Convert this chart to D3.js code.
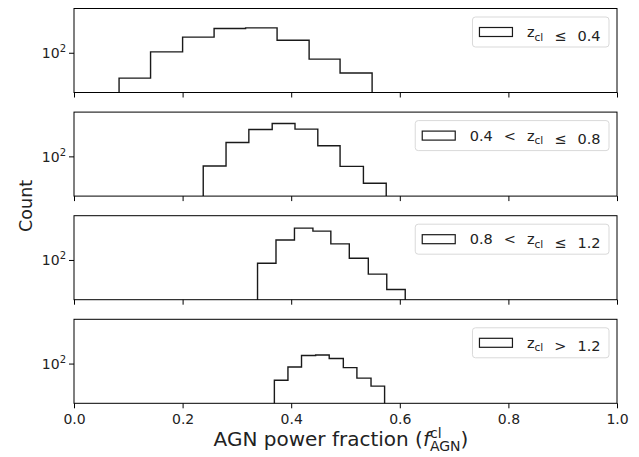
<!DOCTYPE html>
<html>
<head>
<meta charset="utf-8">
<script src="https://cdn.jsdelivr.net/npm/d3@7"></script>
<style>
  html, body { margin: 0; padding: 0; background: #fff; }
  svg { display: block; font-family: "DejaVu Sans", sans-serif; }
</style>
</head>
<body>
<svg id="chart" width="639" height="457"></svg>
<script>
// ── data ──────────────────────────────────────────────────
const panelLabels = [
  [["z", "cl"], "\u2264", "0.4"],
  ["0.4", "<", ["z", "cl"], "\u2264", "0.8"],
  ["0.8", "<", ["z", "cl"], "\u2264", "1.2"],
  [["z", "cl"], ">", "1.2"]
];
const edges1 = [0.083, 0.141, 0.200, 0.258, 0.316, 0.374, 0.433, 0.490, 0.549];
const edges2 = [0.238, 0.280, 0.322, 0.365, 0.407, 0.449, 0.490, 0.533, 0.575];
const edges3 = [0.338, 0.372, 0.406, 0.440, 0.473, 0.507, 0.542, 0.576, 0.610];
const edges4 = [0.369, 0.394, 0.419, 0.445, 0.470, 0.496, 0.521, 0.547, 0.572];
const counts1 = [23, 105, 247, 409, 423, 207, 69, 31];
const counts2 = [57, 224, 475, 673, 486, 185, 56, 21];
const counts3 = [83, 319, 631, 531, 254, 110, 44, 18];
const counts4 = [38, 82, 159, 164, 134, 79, 43, 27];
const xTicks = [0, 0.2, 0.4, 0.6, 0.8, 1.0];
const yTicks = [100];

const panels = [
  { edges: edges1, counts: counts1, label: panelLabels[0] },
  { edges: edges2, counts: counts2, label: panelLabels[1] },
  { edges: edges3, counts: counts3, label: panelLabels[2] },
  { edges: edges4, counts: counts4, label: panelLabels[3] }
];

// ── layout ────────────────────────────────────────────────
const LEFT = 74, RIGHT = 617;
const TOP0 = 8.5, PANEL_H = 84, STEP_Y = 103.6;
const TICK = 5;
const TICK_FONT = 14, LEG_FONT = 14.5;

const svg = d3.select("#chart");
const x = d3.scaleLinear().domain([0, 1]).range([LEFT, RIGHT]);

panels.forEach((p, i) => {
  const top = TOP0 + i * STEP_Y;
  const y = d3.scaleLog().domain([10, 1300]).range([top + PANEL_H, top]);
  const g = svg.append("g");

  // histogram outline (step)
  const pts = [{ x: p.edges[0], y: 10 }];
  p.counts.forEach((c, k) => pts.push({ x: p.edges[k], y: c }));
  pts.push({ x: p.edges[p.edges.length - 1], y: p.counts[p.counts.length - 1] });
  pts.push({ x: p.edges[p.edges.length - 1], y: 10 });
  const line = d3.line().x(d => x(d.x)).y(d => y(d.y)).curve(d3.curveStepAfter);
  g.append("path")
    .attr("d", line(pts))
    .attr("fill", "none")
    .attr("stroke", "#1a1a1a")
    .attr("stroke-width", 1.4);

  // x axis
  const xAxis = d3.axisBottom(x).tickValues(xTicks).tickSize(TICK).tickPadding(6)
    .tickFormat(i === panels.length - 1 ? d3.format(".1f") : () => "");
  const gx = g.append("g").attr("transform", `translate(0,${top + PANEL_H})`).call(xAxis);
  gx.select(".domain").remove();
  gx.selectAll("line").attr("stroke", "#000").attr("stroke-width", 1);
  gx.selectAll("text").attr("font-size", TICK_FONT).attr("fill", "#222")
    .attr("font-family", "DejaVu Sans");

  // y axis
  const yAxis = d3.axisLeft(y).tickValues(yTicks).tickSize(TICK).tickPadding(3).tickFormat(() => "");
  const gy = g.append("g").attr("transform", `translate(${LEFT},0)`).call(yAxis);
  gy.select(".domain").remove();
  gy.selectAll("line").attr("stroke", "#000").attr("stroke-width", 1);
  gy.selectAll(".tick text").each(function () {
    const t = d3.select(this).attr("font-size", TICK_FONT).attr("fill", "#222")
      .attr("font-family", "DejaVu Sans").attr("dy", "0.35em");
    t.append("tspan").text("10");
    t.append("tspan").text("2").attr("font-size", 10).attr("dy", "-0.6em");
  });

  // spines
  g.append("rect")
    .attr("x", LEFT).attr("y", top)
    .attr("width", RIGHT - LEFT).attr("height", PANEL_H)
    .attr("fill", "none").attr("stroke", "#000").attr("stroke-width", 1);

  // legend
  const lg = g.append("g");
  const frame = lg.append("rect");
  const txt = lg.append("text").attr("font-size", LEG_FONT).attr("fill", "#222");
  const GAP = 11;
  p.label.forEach((tok, k) => {
    const dx = k === 0 ? 0 : GAP;
    if (Array.isArray(tok)) {
      txt.append("tspan").text(tok[0]).attr("dx", dx);
      txt.append("tspan").text(tok[1]).attr("font-size", 10.5).attr("dy", 3.5);
      txt.append("tspan").text("").attr("dy", -3.5);
    } else {
      txt.append("tspan").text(tok).attr("dx", dx);
    }
  });
  const tw = txt.node().getBBox().width;
  const legH = 30, padL = 7, handleW = 33, gap = 14.5, padR = 8.5;
  const legW = padL + handleW + gap + tw + padR;
  const lx = 609 - legW, ly = top + 8.5;
  frame.attr("x", lx).attr("y", ly).attr("width", legW).attr("height", legH)
    .attr("rx", 3).attr("fill", "#fff").attr("fill-opacity", 0.8)
    .attr("stroke", "#d9d9d9").attr("stroke-width", 1);
  lg.append("rect")
    .attr("x", lx + padL).attr("y", ly + legH / 2 - 4.5)
    .attr("width", handleW).attr("height", 9)
    .attr("fill", "none").attr("stroke", "#1a1a1a").attr("stroke-width", 1.2);
  txt.attr("x", lx + padL + handleW + gap).attr("y", ly + legH / 2 + 5);
});

// ── axis titles ───────────────────────────────────────────
const xl = svg.append("text")
  .attr("x", 341).attr("y", 446)
  .attr("text-anchor", "middle")
  .attr("font-size", 20).attr("fill", "#222");
xl.append("tspan").text("AGN power fraction (");
xl.append("tspan").text("f").attr("font-style", "italic");
const sup = xl.append("tspan").text("cl").attr("font-size", 14).attr("dy", -8);
xl.append("tspan").text("AGN").attr("font-size", 14).attr("dy", 12.5).attr("class", "sub");
xl.append("tspan").text(")").attr("dy", -4.5);
// stack the subscript under the superscript
const supW = sup.node().getComputedTextLength();
xl.select(".sub").attr("dx", -supW);

svg.append("text")
  .attr("transform", `translate(31.5,${TOP0 + (3 * STEP_Y + PANEL_H) / 2}) rotate(-90)`)
  .attr("text-anchor", "middle")
  .attr("font-size", 17.5).attr("fill", "#222")
  .text("Count");
</script>
</body>
</html>
